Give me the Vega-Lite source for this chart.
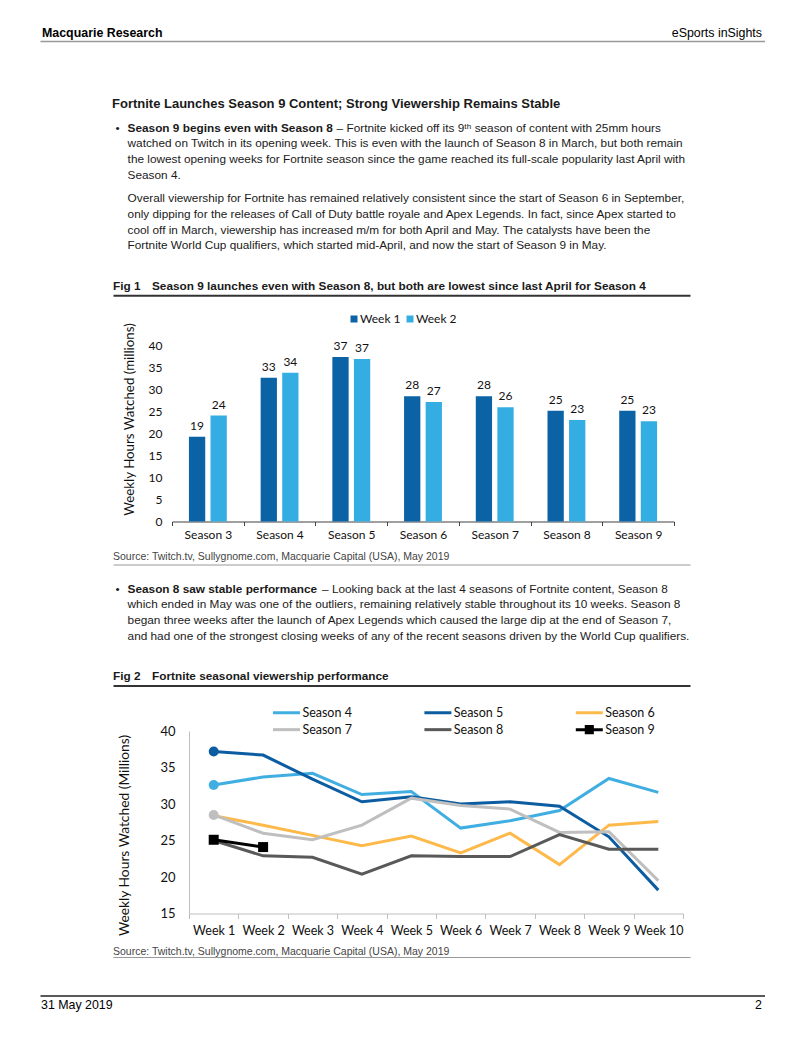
{
  "$schema": "https://vega.github.io/schema/vega-lite/v6.json",
  "padding": {"left": 40, "top": 0, "right": 0, "bottom": 0},
  "background": "white",
  "columns": 1,
  "spacing": 0,
  "align": {"row": "each", "column": "each"},
  "resolve": {"scale": {"color": "independent", "shape": "independent", "x": "independent", "y": "independent"}, "legend": {"color": "independent", "shape": "independent"}},
  "config": {"view": {"stroke": null}, "font": "Liberation Sans", "text": {"font": "Liberation Sans", "color": "#1a1a1a"}},
  "concat": [
    {
      "width": 725, "height": 41,
      "data": {"values": [{"line": 1, "side": "left", "text": "Macquarie Research"}, {"line": 1, "side": "right", "text": "eSports inSights"}]},
      "encoding": {
        "y": {"field": "line", "type": "ordinal", "scale": {"type": "band", "paddingInner": 0, "paddingOuter": 0.678, "align": 1}, "axis": null},
        "text": {"field": "text"}
      },
      "layer": [
        {"transform": [{"filter": "datum.side === 'left'"}],
         "mark": {"type": "text", "align": "left", "baseline": "alphabetic", "dx": 2, "dy": 4.5, "fontSize": 12.4, "fontWeight": "bold", "color": "#000"},
         "encoding": {"x": {"datum": 0, "type": "quantitative", "scale": {"domain": [0, 1], "range": [0, 725]}, "axis": {"domain": true, "domainColor": "#999999", "domainWidth": 1.5, "ticks": false, "labels": false, "grid": false, "title": null}}}},
        {"transform": [{"filter": "datum.side === 'right'"}],
         "mark": {"type": "text", "align": "right", "baseline": "alphabetic", "dx": -3, "dy": 4.5, "fontSize": 12.4, "color": "#000"},
         "encoding": {"x": {"datum": 1, "type": "quantitative"}}}
      ]
    },
    {
      "width": 725, "height": 71,
      "data": {"values": [{"line": 1, "text": "Fortnite Launches Season 9 Content; Strong Viewership Remains Stable"}]},
      "mark": {"type": "text", "align": "left", "baseline": "alphabetic", "dy": 7.5, "fontSize": 13, "fontWeight": "bold", "color": "#1a1a1a"},
      "encoding": {
        "x": {"datum": 0, "type": "quantitative", "scale": {"domain": [0, 1], "range": [72, 650]}, "axis": null},
        "y": {"field": "line", "type": "ordinal", "scale": {"type": "band", "paddingInner": 0, "paddingOuter": 1.71875, "align": 1}, "axis": null},
        "text": {"field": "text"}
      }
    },
    {
      "width": 725, "height": 70.25,
      "data": {"values": [
        {"line": 1, "part": "bullet", "text": "•"},
        {"line": 1, "part": "lead", "text": "Season 9 begins even with Season 8"},
        {"line": 1, "part": "cont", "text": "– Fortnite kicked off its 9ᵗʰ season of content with 25mm hours"},
        {"line": 2, "part": "body", "text": "watched on Twitch in its opening week. This is even with the launch of Season 8 in March, but both remain"},
        {"line": 3, "part": "body", "text": "the lowest opening weeks for Fortnite season since the game reached its full-scale popularity last April with"},
        {"line": 4, "part": "body", "text": "Season 4."}
      ]},
      "encoding": {
        "x": {"datum": 0, "type": "quantitative", "scale": {"domain": [0, 1], "range": [87.6, 650]}, "axis": null},
        "y": {"field": "line", "type": "ordinal", "scale": {"type": "band", "paddingInner": 0, "paddingOuter": 0.237, "align": 1}, "axis": null},
        "text": {"field": "text"}
      },
      "layer": [
        {"transform": [{"filter": "datum.part === 'bullet'"}], "mark": {"type": "text", "align": "left", "baseline": "alphabetic", "dx": -12, "dy": 4.25, "fontSize": 11.8}},
        {"transform": [{"filter": "datum.part === 'lead'"}], "mark": {"type": "text", "align": "left", "baseline": "alphabetic", "dy": 4.25, "fontSize": 11.8, "fontWeight": "bold"}},
        {"transform": [{"filter": "datum.part === 'cont'"}], "mark": {"type": "text", "align": "left", "baseline": "alphabetic", "dx": 209, "dy": 4.25, "fontSize": 11.8}},
        {"transform": [{"filter": "datum.part === 'body'"}], "mark": {"type": "text", "align": "left", "baseline": "alphabetic", "dy": 4.25, "fontSize": 11.8}}
      ]
    },
    {
      "width": 725, "height": 70,
      "data": {"values": [
        {"line": 1, "text": "Overall viewership for Fortnite has remained relatively consistent since the start of Season 6 in September,"},
        {"line": 2, "text": "only dipping for the releases of Call of Duty battle royale and Apex Legends. In fact, since Apex started to"},
        {"line": 3, "text": "cool off in March, viewership has increased m/m for both April and May. The catalysts have been the"},
        {"line": 4, "text": "Fortnite World Cup qualifiers, which started mid-April, and now the start of Season 9 in May."}
      ]},
      "mark": {"type": "text", "align": "left", "baseline": "alphabetic", "dy": 4.25, "fontSize": 11.8},
      "encoding": {
        "x": {"datum": 0, "type": "quantitative", "scale": {"domain": [0, 1], "range": [87.6, 650]}, "axis": null},
        "y": {"field": "line", "type": "ordinal", "scale": {"type": "band", "paddingInner": 0, "paddingOuter": 0.229, "align": 1}, "axis": null},
        "text": {"field": "text"}
      }
    },
    {
      "width": 725, "height": 59.75,
      "data": {"values": [
        {"line": 1, "part": "num", "text": "Fig 1"},
        {"line": 1, "part": "title", "text": "Season 9 launches even with Season 8, but both are lowest since last April for Season 4"}
      ]},
      "encoding": {
        "x": {"datum": 0, "type": "quantitative", "scale": {"domain": [0, 1], "range": [73, 650]}, "axis": {"domain": true, "domainColor": "#333333", "domainWidth": 2, "offset": -17.5, "ticks": false, "labels": false, "grid": false, "title": null}},
        "y": {"field": "line", "type": "ordinal", "scale": {"type": "band", "paddingInner": 0, "paddingOuter": 0.047, "align": 1}, "axis": null},
        "text": {"field": "text"}
      },
      "layer": [
        {"transform": [{"filter": "datum.part === 'num'"}], "mark": {"type": "text", "align": "left", "baseline": "alphabetic", "dy": 4.25, "fontSize": 11.8, "fontWeight": "bold"}},
        {"transform": [{"filter": "datum.part === 'title'"}], "mark": {"type": "text", "align": "left", "baseline": "alphabetic", "dx": 39, "dy": 4.25, "fontSize": 11.8, "fontWeight": "bold"}}
      ]
    },
    {
      "width": 725, "height": 176.5,
      "data": {"values": [
        {"season": "Season 3", "week": "Week 1", "hours": 19.2},
        {"season": "Season 3", "week": "Week 2", "hours": 24.0},
        {"season": "Season 4", "week": "Week 1", "hours": 32.6},
        {"season": "Season 4", "week": "Week 2", "hours": 33.7},
        {"season": "Season 5", "week": "Week 1", "hours": 37.3},
        {"season": "Season 5", "week": "Week 2", "hours": 36.8},
        {"season": "Season 6", "week": "Week 1", "hours": 28.4},
        {"season": "Season 6", "week": "Week 2", "hours": 27.1},
        {"season": "Season 7", "week": "Week 1", "hours": 28.4},
        {"season": "Season 7", "week": "Week 2", "hours": 25.9},
        {"season": "Season 8", "week": "Week 1", "hours": 25.1},
        {"season": "Season 8", "week": "Week 2", "hours": 23.0},
        {"season": "Season 9", "week": "Week 1", "hours": 25.1},
        {"season": "Season 9", "week": "Week 2", "hours": 22.7}
      ]},
      "encoding": {
        "x": {"field": "season", "type": "nominal", "sort": null,
              "scale": {"type": "band", "range": [132, 634], "paddingInner": 0, "paddingOuter": 0},
              "axis": {"title": null, "labelAngle": 0, "tickBand": "extent", "domainColor": "#404040", "tickColor": "#404040", "tickSize": 4, "labelPadding": 4, "labelFont": "Lato", "labelFontSize": 12, "labelColor": "#111111", "grid": false}},
        "xOffset": {"field": "week", "type": "nominal", "scale": {"paddingInner": 0.245, "paddingOuter": 0.785}},
        "y": {"field": "hours", "type": "quantitative", "scale": {"domain": [0, 40], "nice": false},
              "axis": {"values": [0, 5, 10, 15, 20, 25, 30, 35, 40], "offset": -132, "domain": false, "ticks": false, "grid": false, "labelPadding": 10, "labelFont": "Lato", "labelFontSize": 12, "labelColor": "#111111", "title": "Weekly Hours Watched (millions)", "titleFont": "Lato", "titleFontSize": 13.3, "titleFontWeight": "normal", "titleColor": "#111111", "titlePadding": 12, "titleY": 74}},
        "color": {"field": "week", "type": "nominal", "scale": {"domain": ["Week 1", "Week 2"], "range": ["#0B62A4", "#34AEE2"]},
                  "legend": {"title": null, "orient": "none", "legendX": 308, "legendY": -32, "direction": "horizontal", "symbolType": "square", "symbolSize": 49, "symbolStrokeWidth": 0, "labelFont": "Lato", "labelFontSize": 12, "labelColor": "#111111", "labelOffset": 0, "columnPadding": 3, "padding": 0}}
      },
      "layer": [
        {"mark": {"type": "bar"}},
        {"mark": {"type": "text", "baseline": "alphabetic", "dy": -7, "font": "Lato", "fontSize": 12},
         "encoding": {"text": {"field": "hours", "type": "quantitative", "format": ".0f"}, "color": {"value": "#111111"}}}
      ]
    },
    {
      "width": 725, "height": 23.5,
      "data": {"values": [{"line": 1, "text": "Source: Twitch.tv, Sullygnome.com, Macquarie Capital (USA), May 2019"}]},
      "mark": {"type": "text", "align": "left", "baseline": "alphabetic", "dy": 3.8, "fontSize": 10.5, "color": "#444444"},
      "encoding": {
        "x": {"datum": 0, "type": "quantitative", "scale": {"domain": [0, 1], "range": [73, 650]}, "axis": {"domain": true, "domainColor": "#999999", "domainWidth": 1, "ticks": false, "labels": false, "grid": false, "title": null}},
        "y": {"field": "line", "type": "ordinal", "scale": {"type": "band", "paddingInner": 0, "paddingOuter": 0.208, "align": 1}, "axis": null},
        "text": {"field": "text"}
      }
    },
    {
      "width": 725, "height": 78.6,
      "data": {"values": [
        {"line": 1, "part": "bullet", "text": "•"},
        {"line": 1, "part": "lead", "text": "Season 8 saw stable performance"},
        {"line": 1, "part": "cont", "text": "– Looking back at the last 4 seasons of Fortnite content, Season 8"},
        {"line": 2, "part": "body", "text": "which ended in May was one of the outliers, remaining relatively stable throughout its 10 weeks. Season 8"},
        {"line": 3, "part": "body", "text": "began three weeks after the launch of Apex Legends which caused the large dip at the end of Season 7,"},
        {"line": 4, "part": "body", "text": "and had one of the strongest closing weeks of any of the recent seasons driven by the World Cup qualifiers."}
      ]},
      "encoding": {
        "x": {"datum": 0, "type": "quantitative", "scale": {"domain": [0, 1], "range": [87.6, 650]}, "axis": null},
        "y": {"field": "line", "type": "ordinal", "scale": {"type": "band", "paddingInner": 0, "paddingOuter": 0.487, "align": 1}, "axis": null},
        "text": {"field": "text"}
      },
      "layer": [
        {"transform": [{"filter": "datum.part === 'bullet'"}], "mark": {"type": "text", "align": "left", "baseline": "alphabetic", "dx": -12, "dy": 4.25, "fontSize": 11.8}},
        {"transform": [{"filter": "datum.part === 'lead'"}], "mark": {"type": "text", "align": "left", "baseline": "alphabetic", "dy": 4.25, "fontSize": 11.8, "fontWeight": "bold"}},
        {"transform": [{"filter": "datum.part === 'cont'"}], "mark": {"type": "text", "align": "left", "baseline": "alphabetic", "dx": 194.5, "dy": 4.25, "fontSize": 11.8}},
        {"transform": [{"filter": "datum.part === 'body'"}], "mark": {"type": "text", "align": "left", "baseline": "alphabetic", "dy": 4.25, "fontSize": 11.8}}
      ]
    },
    {
      "width": 725, "height": 59.65,
      "data": {"values": [
        {"line": 1, "part": "num", "text": "Fig 2"},
        {"line": 1, "part": "title", "text": "Fortnite seasonal viewership performance"}
      ]},
      "encoding": {
        "x": {"datum": 0, "type": "quantitative", "scale": {"domain": [0, 1], "range": [73, 650]}, "axis": {"domain": true, "domainColor": "#333333", "domainWidth": 2, "offset": -18.25, "ticks": false, "labels": false, "grid": false, "title": null}},
        "y": {"field": "line", "type": "ordinal", "scale": {"type": "band", "paddingInner": 0, "paddingOuter": 0.041, "align": 1}, "axis": null},
        "text": {"field": "text"}
      },
      "layer": [
        {"transform": [{"filter": "datum.part === 'num'"}], "mark": {"type": "text", "align": "left", "baseline": "alphabetic", "dy": 4.25, "fontSize": 11.8, "fontWeight": "bold"}},
        {"transform": [{"filter": "datum.part === 'title'"}], "mark": {"type": "text", "align": "left", "baseline": "alphabetic", "dx": 39, "dy": 4.25, "fontSize": 11.8, "fontWeight": "bold"}}
      ]
    },
    {
      "width": 725, "height": 182.5,
      "data": {"values": [
        {"season": "Season 4", "week": "Week 1", "hours": 32.6},
        {"season": "Season 4", "week": "Week 2", "hours": 33.7},
        {"season": "Season 4", "week": "Week 3", "hours": 34.2},
        {"season": "Season 4", "week": "Week 4", "hours": 31.3},
        {"season": "Season 4", "week": "Week 5", "hours": 31.7},
        {"season": "Season 4", "week": "Week 6", "hours": 26.7},
        {"season": "Season 4", "week": "Week 7", "hours": 27.7},
        {"season": "Season 4", "week": "Week 8", "hours": 29.1},
        {"season": "Season 4", "week": "Week 9", "hours": 33.5},
        {"season": "Season 4", "week": "Week 10", "hours": 31.6},
        {"season": "Season 5", "week": "Week 1", "hours": 37.2},
        {"season": "Season 5", "week": "Week 2", "hours": 36.7},
        {"season": "Season 5", "week": "Week 3", "hours": 33.4},
        {"season": "Season 5", "week": "Week 4", "hours": 30.3},
        {"season": "Season 5", "week": "Week 5", "hours": 31.0},
        {"season": "Season 5", "week": "Week 6", "hours": 30.0},
        {"season": "Season 5", "week": "Week 7", "hours": 30.3},
        {"season": "Season 5", "week": "Week 8", "hours": 29.7},
        {"season": "Season 5", "week": "Week 9", "hours": 25.5},
        {"season": "Season 5", "week": "Week 10", "hours": 18.2},
        {"season": "Season 6", "week": "Week 1", "hours": 28.4},
        {"season": "Season 6", "week": "Week 2", "hours": 27.1},
        {"season": "Season 6", "week": "Week 3", "hours": 25.7},
        {"season": "Season 6", "week": "Week 4", "hours": 24.3},
        {"season": "Season 6", "week": "Week 5", "hours": 25.6},
        {"season": "Season 6", "week": "Week 6", "hours": 23.3},
        {"season": "Season 6", "week": "Week 7", "hours": 26.0},
        {"season": "Season 6", "week": "Week 8", "hours": 21.7},
        {"season": "Season 6", "week": "Week 9", "hours": 27.1},
        {"season": "Season 6", "week": "Week 10", "hours": 27.6},
        {"season": "Season 7", "week": "Week 1", "hours": 28.5},
        {"season": "Season 7", "week": "Week 2", "hours": 26.0},
        {"season": "Season 7", "week": "Week 3", "hours": 25.1},
        {"season": "Season 7", "week": "Week 4", "hours": 27.1},
        {"season": "Season 7", "week": "Week 5", "hours": 30.8},
        {"season": "Season 7", "week": "Week 6", "hours": 29.8},
        {"season": "Season 7", "week": "Week 7", "hours": 29.3},
        {"season": "Season 7", "week": "Week 8", "hours": 26.1},
        {"season": "Season 7", "week": "Week 9", "hours": 26.2},
        {"season": "Season 7", "week": "Week 10", "hours": 19.5},
        {"season": "Season 8", "week": "Week 1", "hours": 25.0},
        {"season": "Season 8", "week": "Week 2", "hours": 22.9},
        {"season": "Season 8", "week": "Week 3", "hours": 22.7},
        {"season": "Season 8", "week": "Week 4", "hours": 20.4},
        {"season": "Season 8", "week": "Week 5", "hours": 22.9},
        {"season": "Season 8", "week": "Week 6", "hours": 22.8},
        {"season": "Season 8", "week": "Week 7", "hours": 22.8},
        {"season": "Season 8", "week": "Week 8", "hours": 25.8},
        {"season": "Season 8", "week": "Week 9", "hours": 23.8},
        {"season": "Season 8", "week": "Week 10", "hours": 23.8},
        {"season": "Season 9", "week": "Week 1", "hours": 25.1},
        {"season": "Season 9", "week": "Week 2", "hours": 24.1}
      ]},
      "encoding": {
        "x": {"field": "week", "type": "ordinal", "sort": ["Week 1", "Week 2", "Week 3", "Week 4", "Week 5", "Week 6", "Week 7", "Week 8", "Week 9", "Week 10"],
              "scale": {"type": "band", "range": [149, 643], "paddingInner": 0, "paddingOuter": 0},
              "axis": {"title": null, "labelAngle": 0, "tickBand": "extent", "domainColor": "#BFBFBF", "tickColor": "#BFBFBF", "tickSize": 5, "labelPadding": 6, "labelFont": "Lato", "labelFontSize": 12.5, "labelColor": "#111111", "grid": false}},
        "y": {"field": "hours", "type": "quantitative", "scale": {"domain": [15, 40], "nice": false, "zero": false},
              "axis": {"values": [15, 20, 25, 30, 35, 40], "offset": -149, "domain": true, "domainColor": "#BFBFBF", "ticks": false, "grid": false, "labelPadding": 14, "labelFont": "Lato", "labelFontSize": 13, "labelColor": "#111111", "title": "Weekly Hours Watched (Millions)", "titleFont": "Lato", "titleFontSize": 13.8, "titleFontWeight": "normal", "titleColor": "#111111", "titlePadding": 28, "titleY": 104}}
      },
      "layer": [
        {"mark": {"type": "line", "strokeWidth": 3},
         "encoding": {"color": {"field": "season", "type": "nominal",
           "scale": {"domain": ["Season 4", "Season 5", "Season 6", "Season 7", "Season 8", "Season 9"], "range": ["#41AEE2", "#0B5CA0", "#FDB94A", "#BFBFBF", "#595959", "#000000"]},
           "legend": {"title": null, "orient": "none", "legendX": 238, "legendY": -26.75, "columns": 3, "direction": "horizontal", "symbolType": "M-2,0H2", "symbolSize": 182, "symbolStrokeWidth": 3, "labelFont": "Lato", "labelFontSize": 12.5, "labelColor": "#111111", "labelOffset": 7.4, "columnPadding": 66.4, "rowPadding": 0.9, "padding": 0,
             "encode": {"symbols": {"update": {"shape": {"signal": "datum.value === 'Season 9' ? 'M-2,0H2M-0.45,-0.45H0.45V0.45H-0.45Z' : 'M-2,0H2'"}, "fill": {"signal": "datum.value === 'Season 9' ? '#000000' : 'transparent'"}}}}}}}},
        {"transform": [{"filter": "(datum.week === 'Week 1' && (datum.season === 'Season 4' || datum.season === 'Season 5' || datum.season === 'Season 7')) || datum.season === 'Season 9'"}],
         "mark": {"type": "point", "filled": true, "opacity": 1, "size": 100},
         "encoding": {
           "color": {"field": "season", "type": "nominal", "legend": null},
           "shape": {"field": "season", "type": "nominal", "scale": {"domain": ["Season 4", "Season 5", "Season 7", "Season 9"], "range": ["circle", "circle", "circle", "square"]}, "legend": null}
         }}
      ]
    },
    {
      "width": 725, "height": 20,
      "data": {"values": [{"line": 1, "text": "Source: Twitch.tv, Sullygnome.com, Macquarie Capital (USA), May 2019"}]},
      "mark": {"type": "text", "align": "left", "baseline": "alphabetic", "dy": 3.8, "fontSize": 10.5, "color": "#444444"},
      "encoding": {
        "x": {"datum": 0, "type": "quantitative", "scale": {"domain": [0, 1], "range": [73, 650]}, "axis": {"domain": true, "domainColor": "#999999", "domainWidth": 1, "ticks": false, "labels": false, "grid": false, "title": null}},
        "y": {"field": "line", "type": "ordinal", "scale": {"type": "band", "paddingInner": 0, "paddingOuter": 0.294, "align": 1}, "axis": null},
        "text": {"field": "text"}
      }
    },
    {
      "width": 725, "height": 54,
      "data": {"values": [{"line": 1, "side": "left", "text": "31 May 2019"}, {"line": 1, "side": "right", "text": "2"}]},
      "encoding": {
        "y": {"field": "line", "type": "ordinal", "scale": {"type": "band", "paddingInner": 0, "paddingOuter": 1.05, "align": 1}, "axis": null},
        "text": {"field": "text"}
      },
      "layer": [
        {"transform": [{"filter": "datum.side === 'left'"}],
         "mark": {"type": "text", "align": "left", "baseline": "alphabetic", "dx": 1, "dy": 5.8, "fontSize": 12.4, "color": "#000"},
         "encoding": {"x": {"datum": 0, "type": "quantitative", "scale": {"domain": [0, 1], "range": [0, 725]}, "axis": {"orient": "top", "offset": -37.4, "domain": true, "domainColor": "#222222", "domainWidth": 1.5, "ticks": false, "labels": false, "grid": false, "title": null}}}},
        {"transform": [{"filter": "datum.side === 'right'"}],
         "mark": {"type": "text", "align": "right", "baseline": "alphabetic", "dx": -3, "dy": 5.8, "fontSize": 12.4, "color": "#000"},
         "encoding": {"x": {"datum": 1, "type": "quantitative"}}}
      ]
    }
  ]
}
